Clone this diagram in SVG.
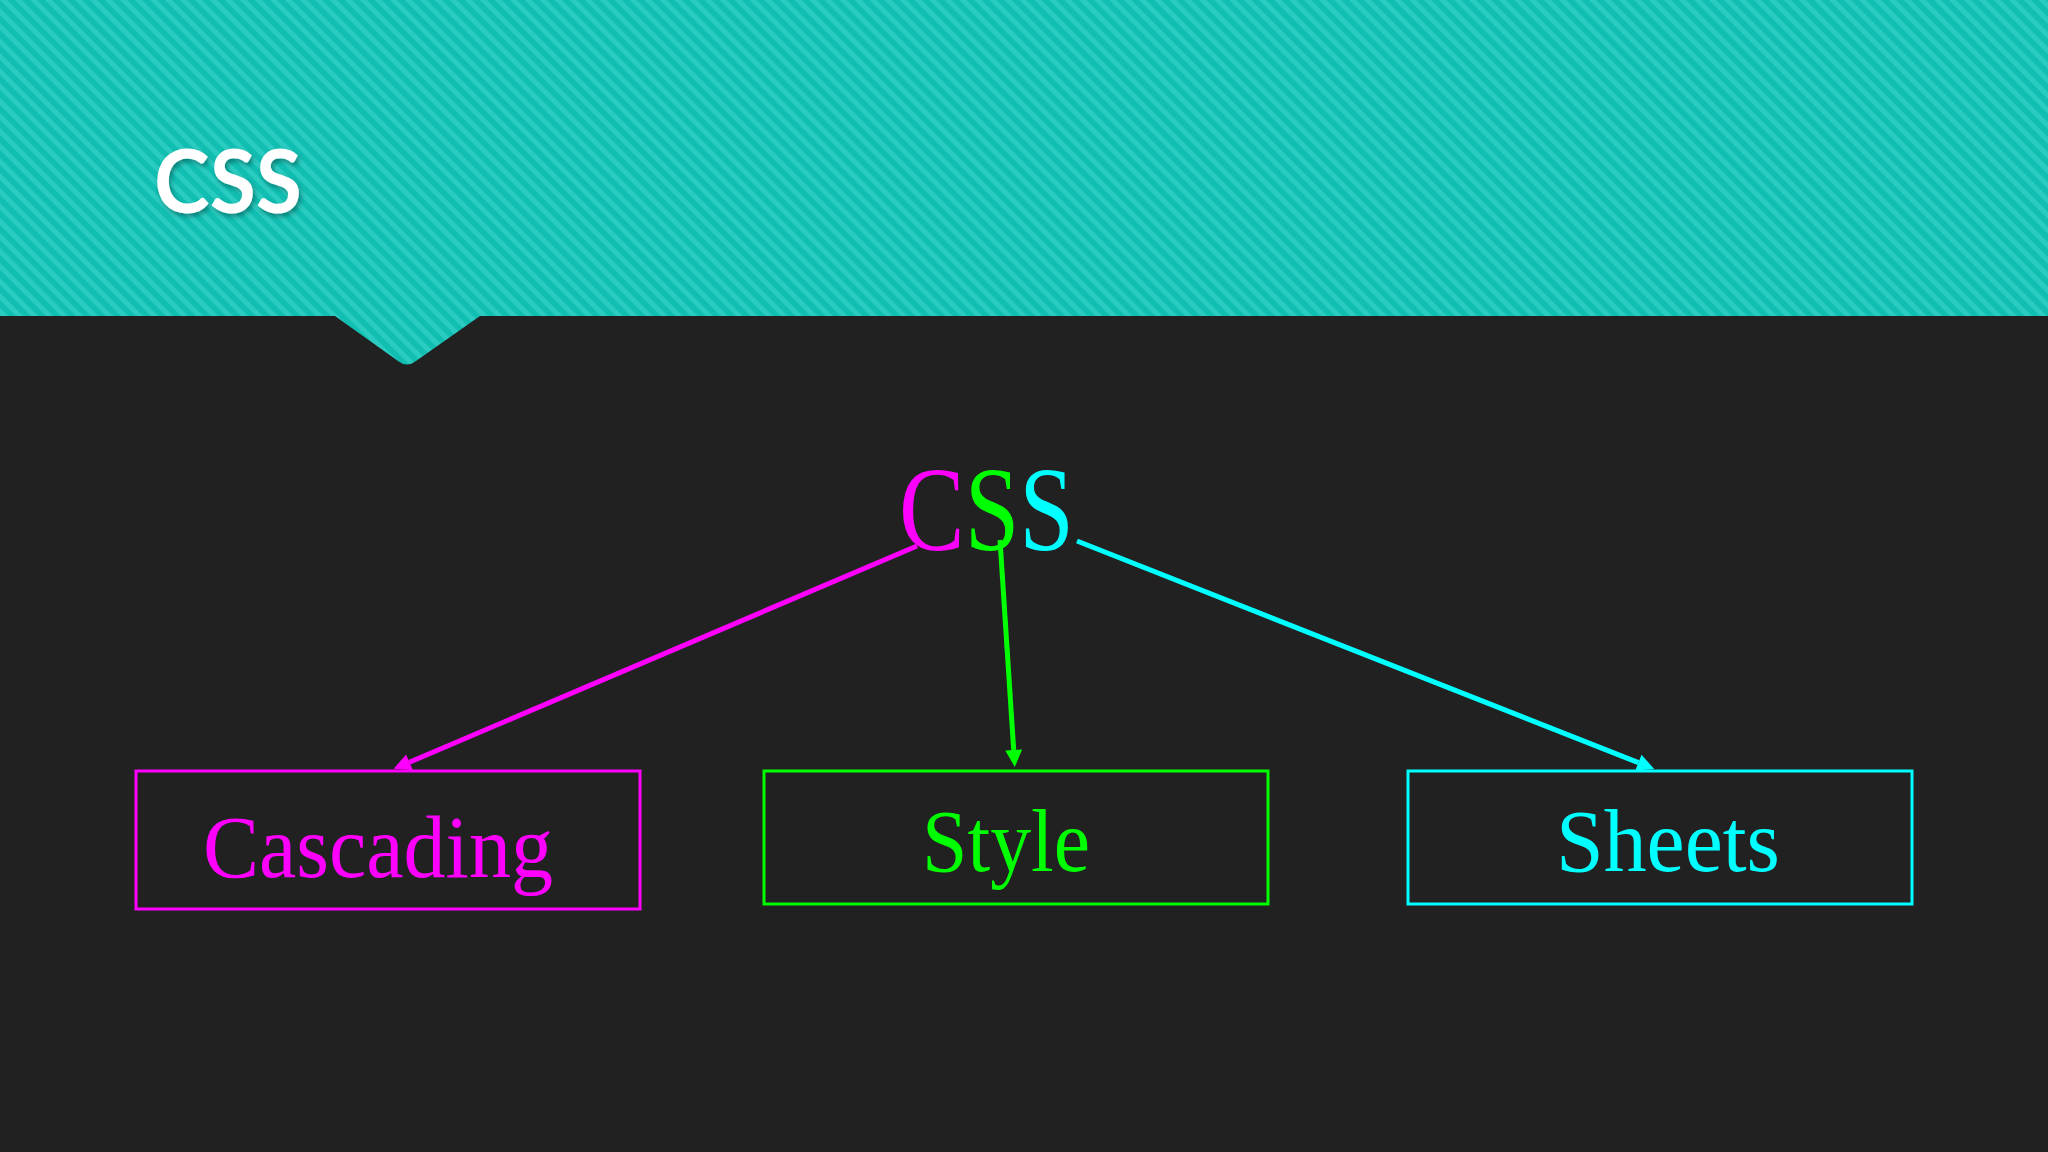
<svg xmlns="http://www.w3.org/2000/svg" width="2048" height="1152" viewBox="0 0 2048 1152">
  <defs>
    <pattern id="stripes" width="10.6" height="10.6" patternUnits="userSpaceOnUse" patternTransform="rotate(-45)">
      <rect width="10.6" height="10.6" fill="#10beb2"/>
      <rect width="5" height="10.6" fill="#2acbc0"/>
    </pattern>
    <filter id="shadow" x="-20%" y="-20%" width="140%" height="140%">
      <feDropShadow dx="2" dy="3" stdDeviation="2.5" flood-color="#000" flood-opacity="0.35"/>
    </filter>
    <marker id="arrM" viewBox="0 0 10 10" refX="0" refY="5" markerWidth="20" markerHeight="17" markerUnits="userSpaceOnUse" orient="auto">
      <path d="M0,0 L10,5 L0,10 z" fill="#ff00ff"/>
    </marker>
    <marker id="arrG" viewBox="0 0 10 10" refX="0" refY="5" markerWidth="20" markerHeight="17" markerUnits="userSpaceOnUse" orient="auto">
      <path d="M0,0 L10,5 L0,10 z" fill="#00ff00"/>
    </marker>
    <marker id="arrC" viewBox="0 0 10 10" refX="0" refY="5" markerWidth="20" markerHeight="17" markerUnits="userSpaceOnUse" orient="auto">
      <path d="M0,0 L10,5 L0,10 z" fill="#00ffff"/>
    </marker>
  </defs>
  <style>
    .serif { font-family: "Liberation Serif", "DejaVu Serif", serif; }
    .box { fill: none; stroke-width: 3; }
    .conn { fill: none; stroke-width: 5; }
  </style>

  <rect x="0" y="0" width="2048" height="1152" fill="#212121"/>

  <g id="header">
    <path d="M0,0 H2048 V316 H480 L416,361 Q407,368 398,361 L335,316 H0 Z" fill="url(#stripes)"/>
    <text x="154" y="213" font-family="Lato, 'Open Sans', sans-serif" font-weight="bold" font-size="88" fill="#ffffff" textLength="148" lengthAdjust="spacingAndGlyphs" filter="url(#shadow)">CSS</text>
  </g>

  <g id="connectors">
    <line class="conn" x1="917" y1="546" x2="409.4" y2="762.2" stroke="#ff00ff" marker-end="url(#arrM)"/>
    <line class="conn" x1="1000" y1="540" x2="1013.7" y2="750" stroke="#00ff00" marker-end="url(#arrG)"/>
    <line class="conn" x1="1077" y1="541" x2="1638.4" y2="762.7" stroke="#00ffff" marker-end="url(#arrC)"/>
  </g>

  <g id="root-css">
    <text class="serif" transform="translate(899,550) scale(0.82,1)" x="0" y="0" font-size="120"><tspan fill="#ff00ff">C</tspan><tspan fill="#00ff00">S</tspan><tspan fill="#00ffff">S</tspan></text>
  </g>

  <g id="node-cascading">
    <rect class="box" x="136" y="771" width="504" height="138" stroke="#ff00ff"/>
    <text class="serif" x="203" y="877" font-size="88" fill="#ff00ff" textLength="350" lengthAdjust="spacingAndGlyphs">Cascading</text>
  </g>

  <g id="node-style">
    <rect class="box" x="764" y="771" width="504" height="133" stroke="#00ff00"/>
    <text class="serif" x="922" y="871" font-size="88" fill="#00ff00" textLength="168" lengthAdjust="spacingAndGlyphs">Style</text>
  </g>

  <g id="node-sheets">
    <rect class="box" x="1408" y="771" width="504" height="133" stroke="#00ffff"/>
    <text class="serif" x="1556" y="871" font-size="88" fill="#00ffff" textLength="224" lengthAdjust="spacingAndGlyphs">Sheets</text>
  </g>
</svg>
